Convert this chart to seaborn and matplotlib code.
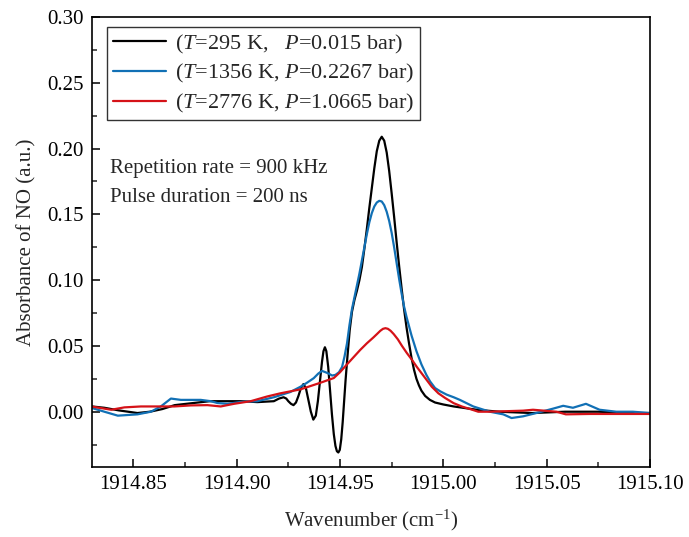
import numpy as np
import pandas as pd
import seaborn as sns
import matplotlib
matplotlib.use("Agg")
import matplotlib.pyplot as plt
from matplotlib.ticker import MultipleLocator, FormatStrFormatter

# ---------------- data ----------------
labels = [
    r"($\mathit{T}$=295 K,   $\mathit{P}$=0.015 bar)",
    r"($\mathit{T}$=1356 K, $\mathit{P}$=0.2267 bar)",
    r"($\mathit{T}$=2776 K, $\mathit{P}$=1.0665 bar)",
]
colors = ["#000000", "#1170b5", "#d51218"]

wn_295 = [1914.830, 1914.836, 1914.843, 1914.852, 1914.858, 1914.864, 1914.870,
          1914.879, 1914.887, 1914.902, 1914.910, 1914.918, 1914.9205, 1914.9227,
          1914.9240, 1914.9250, 1914.9263, 1914.9275, 1914.9287, 1914.9299, 1914.9311,
          1914.9323, 1914.9335, 1914.9347, 1914.9359, 1914.9371, 1914.9383, 1914.9393,
          1914.9403, 1914.9413, 1914.9420, 1914.9427, 1914.9434, 1914.9443, 1914.9452,
          1914.9461, 1914.9470, 1914.9478, 1914.9485, 1914.9492, 1914.9499, 1914.9506,
          1914.9513, 1914.9520, 1914.9527, 1914.9534, 1914.9541, 1914.9547, 1914.9558,
          1914.9570, 1914.9582, 1914.9594, 1914.9606, 1914.9618, 1914.9630, 1914.9642,
          1914.9654, 1914.9666, 1914.9678, 1914.9690, 1914.9702, 1914.9714, 1914.9726,
          1914.9738, 1914.9750, 1914.9762, 1914.9774, 1914.9786, 1914.9798, 1914.9810,
          1914.9822, 1914.9834, 1914.9846, 1914.9858, 1914.9870, 1914.9882, 1914.9894,
          1914.9912, 1914.9935, 1914.9960, 1915.0000, 1915.0050, 1915.0095, 1915.0161,
          1915.027, 1915.043, 1915.059, 1915.075, 1915.092, 1915.100]
abs_295 = [0.004, 0.003, 0.001, -0.001, 0.000, 0.002, 0.005,
           0.0066, 0.008, 0.008, 0.0073, 0.008, 0.010, 0.011,
           0.010, 0.008, 0.006, 0.005, 0.007, 0.012, 0.018,
           0.021, 0.018, 0.009, 0.000, -0.006, -0.003, 0.008,
           0.023, 0.038, 0.046, 0.049, 0.046, 0.034, 0.016,
           -0.002, -0.017, -0.026, -0.030, -0.031, -0.029, -0.021,
           -0.008, 0.008, 0.024, 0.038, 0.051, 0.062, 0.076,
           0.085, 0.092, 0.100, 0.110, 0.124, 0.139, 0.155,
           0.170, 0.185, 0.198, 0.206, 0.209, 0.206, 0.197,
           0.183, 0.166, 0.148, 0.129, 0.111, 0.094, 0.078,
           0.064, 0.052, 0.041, 0.032, 0.025, 0.020, 0.016,
           0.012, 0.009, 0.007, 0.0055, 0.004, 0.003, 0.0015,
           0.000, -0.001, 0.000, 0.000, -0.001, -0.001]

wn_1356 = [1914.8296, 1914.836, 1914.8425, 1914.852, 1914.8585, 1914.8633, 1914.8682,
           1914.873, 1914.8826, 1914.8875, 1914.8907, 1914.8955, 1914.9019, 1914.910,
           1914.918, 1914.926, 1914.9309, 1914.9340, 1914.9373, 1914.9395, 1914.9413,
           1914.9430, 1914.9445, 1914.9462, 1914.9478, 1914.9495, 1914.9510, 1914.9522,
           1914.9534, 1914.9546, 1914.9558, 1914.9570, 1914.9582, 1914.9594, 1914.9606,
           1914.9618, 1914.9630, 1914.9642, 1914.9654, 1914.9666, 1914.9678, 1914.9690,
           1914.9702, 1914.9714, 1914.9726, 1914.9738, 1914.9750, 1914.9762, 1914.9774,
           1914.9786, 1914.9798, 1914.9810, 1914.9822, 1914.9834, 1914.9846, 1914.9858,
           1914.9870, 1914.9882, 1914.9894, 1914.9906, 1914.9918, 1914.9936, 1914.9960,
           1914.9985, 1915.0016, 1915.0050, 1915.0080, 1915.0145, 1915.0225, 1915.029,
           1915.033, 1915.0386, 1915.045, 1915.053, 1915.058, 1915.0627, 1915.069,
           1915.0756, 1915.0837, 1915.0917, 1915.100]
abs_1356 = [0.003, 0.000, -0.003, -0.002, 0.000, 0.004, 0.010,
            0.009, 0.009, 0.008, 0.0066, 0.006, 0.0074, 0.008,
            0.011, 0.015, 0.019, 0.022, 0.0255, 0.029, 0.031,
            0.030, 0.029, 0.0275, 0.028, 0.030, 0.034, 0.042,
            0.052, 0.066, 0.078, 0.087, 0.096, 0.105, 0.115,
            0.125, 0.135, 0.144, 0.151, 0.156, 0.159, 0.1603,
            0.1598, 0.157, 0.152, 0.145, 0.136, 0.125, 0.113,
            0.101, 0.090, 0.080, 0.072, 0.065, 0.058, 0.052,
            0.046, 0.041, 0.036, 0.032, 0.028, 0.023, 0.018,
            0.0155, 0.013, 0.011, 0.009, 0.004, 0.000, -0.002,
            -0.0048, -0.0035, -0.001, 0.0023, 0.0045, 0.003, 0.006,
            0.0015, 0.000, 0.000, -0.001]

wn_2776 = [1914.8296, 1914.8393, 1914.8457, 1914.8537, 1914.8698, 1914.8779, 1914.8859,
           1914.8923, 1914.8987, 1914.9068, 1914.9148, 1914.9212, 1914.9309, 1914.9405,
           1914.9470, 1914.9500, 1914.9534, 1914.9566, 1914.9598, 1914.9630, 1914.9662,
           1914.9680, 1914.9695, 1914.9708, 1914.9720, 1914.9732, 1914.9745, 1914.9760,
           1914.9780, 1914.9800, 1914.9824, 1914.9848, 1914.9872, 1914.9896, 1914.9920,
           1914.9944, 1914.9976, 1915.0009, 1915.0050, 1915.0089, 1915.0130, 1915.0169,
           1915.0225, 1915.0386, 1915.0434, 1915.0547, 1915.0593, 1915.0707, 1915.100]
abs_2776 = [0.004, 0.0015, 0.0033, 0.004, 0.004, 0.0048, 0.005,
            0.004, 0.006, 0.008, 0.0116, 0.014, 0.017, 0.022,
            0.0256, 0.030, 0.036, 0.0415, 0.047, 0.052, 0.0565,
            0.0592, 0.0615, 0.0630, 0.0635, 0.0630, 0.0615, 0.0590,
            0.0550, 0.0500, 0.0445, 0.0395, 0.034, 0.029, 0.024,
            0.019, 0.014, 0.0104, 0.0065, 0.004, 0.002, 0.000,
            0.000, 0.0008, 0.0015, 0.000, -0.002, -0.0017, -0.0017]

annotations = ["Repetition rate = 900 kHz", "Pulse duration = 200 ns"]

# ---------------- build table ----------------
frames = []
for lab, x, y in zip(labels, [wn_295, wn_1356, wn_2776], [abs_295, abs_1356, abs_2776]):
    frames.append(pd.DataFrame({"wn": x, "abs": y, "cond": lab}))
df = pd.concat(frames, ignore_index=True)

# ---------------- style ----------------
sns.set_theme(style="ticks")
plt.rcParams["font.family"] = ["Liberation Serif", "DejaVu Serif"]
plt.rcParams["mathtext.fontset"] = "custom"
plt.rcParams["mathtext.rm"] = "Liberation Serif"
plt.rcParams["mathtext.it"] = "Liberation Serif:italic"
plt.rcParams["axes.unicode_minus"] = False

fig = plt.figure(figsize=(6.89, 5.37), dpi=100)
ax = fig.add_axes([0.1335, 0.1304, 0.8099, 0.8379])

sns.lineplot(data=df, x="wn", y="abs", hue="cond", palette=colors,
             estimator=None, sort=True, linewidth=1.6, ax=ax)
for ln in ax.get_lines():
    ln.set_solid_joinstyle("round")
    ln.set_solid_capstyle("round")

ax.set_xlim(1914.83, 1915.10)
ax.set_ylim(-0.042, 0.30)
ax.xaxis.set_major_locator(MultipleLocator(0.05))
ax.xaxis.set_minor_locator(MultipleLocator(0.025))
ax.yaxis.set_major_locator(MultipleLocator(0.05))
ax.yaxis.set_minor_locator(MultipleLocator(0.025))
ax.xaxis.set_major_formatter(FormatStrFormatter("%.2f"))
ax.yaxis.set_major_formatter(FormatStrFormatter("%.2f"))
ax.tick_params(axis="both", which="major", direction="in", length=6, width=1.1,
               labelsize=15, colors="black", pad=6)
ax.tick_params(axis="both", which="minor", direction="in", length=3.5, width=1.1)
for s in ax.spines.values():
    s.set_visible(True)
    s.set_linewidth(1.2)
    s.set_color("black")

ax.set_xlabel("Wavenumber (cm$^{-1}$)", fontsize=15, labelpad=10)
ax.set_ylabel("Absorbance of NO (a.u.)", fontsize=15, labelpad=8)

leg = ax.legend(loc="upper left", bbox_to_anchor=(0.027, 0.978), fontsize=16,
                frameon=True, fancybox=False, edgecolor="black",
                handlelength=2.4, handletextpad=0.4, borderpad=0.25,
                labelspacing=0.3, borderaxespad=0.0)
leg.get_frame().set_linewidth(1.0)
for h in leg.get_lines():
    h.set_linewidth(1.6)

ax.text(0.032, 0.664, annotations[0], transform=ax.transAxes, fontsize=15,
        va="center", ha="left")
ax.text(0.032, 0.600, annotations[1], transform=ax.transAxes, fontsize=15,
        va="center", ha="left")

fig.savefig("out.png", dpi=100)
